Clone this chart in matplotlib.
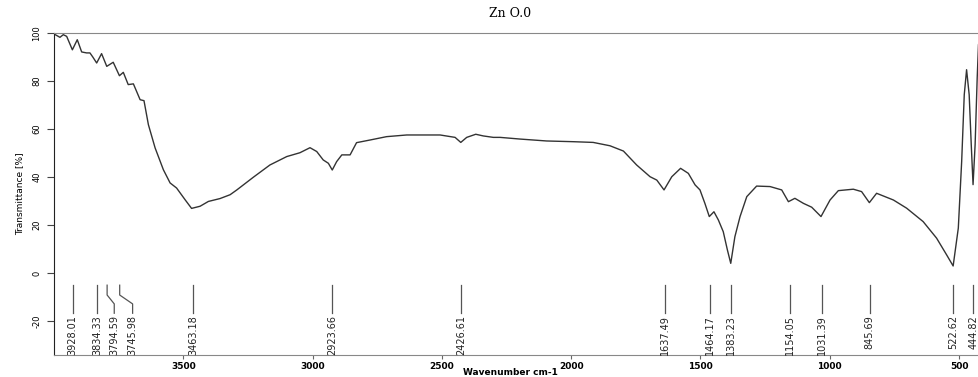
import matplotlib.pyplot as plt

# Spectrum (wavenumber cm-1, transmittance %)
wavenumber = [4000, 3977, 3964, 3951, 3929, 3910, 3893, 3874, 3861, 3850, 3835, 3816,
              3796, 3771, 3747, 3732, 3713, 3693, 3667, 3652, 3635, 3609, 3577, 3551,
              3526, 3493, 3468, 3435, 3403, 3358, 3319, 3293, 3229, 3165, 3100, 3049,
              3010, 2984, 2959, 2939, 2924, 2907, 2887, 2855, 2830, 2778, 2714, 2636,
              2507, 2449, 2427, 2404, 2369, 2340, 2301, 2275, 2198, 2095, 1992, 1915,
              1850, 1798, 1747, 1695, 1669, 1641, 1611, 1577, 1547, 1521, 1502, 1483,
              1466, 1448, 1431, 1412, 1396, 1383, 1367, 1347, 1321, 1283, 1231, 1186,
              1160, 1135, 1102, 1070, 1034, 999, 967, 909, 877, 847, 819, 754, 703,
              639, 587, 548, 523, 503, 490, 480, 471, 461, 453, 446, 438, 430, 425, 420]
transmittance = [99.6, 98.2, 99.3, 98.6, 93.0, 97.2, 92.1, 91.7, 91.7, 90.0, 87.5, 91.4,
                 86.1, 87.8, 82.2, 83.6, 78.5, 78.8, 72.2, 71.8, 61.8, 52.1, 43.0, 37.5,
                 35.4, 30.5, 26.9, 27.8, 29.8, 31.0, 32.6, 34.6, 39.9, 45.0, 48.5, 50.1,
                 52.2, 50.6, 47.1, 45.7, 42.9, 46.4, 49.2, 49.2, 54.3, 55.4, 56.8, 57.5,
                 57.5, 56.5, 54.4, 56.5, 57.8, 57.1, 56.5, 56.5, 55.8, 55.0, 54.7, 54.4,
                 53.0, 50.8, 45.0, 40.1, 38.7, 34.6, 40.1, 43.6, 41.5, 36.7, 34.6, 29.0,
                 23.5, 25.5, 22.1, 17.2, 9.6, 4.0, 15.1, 23.5, 31.8, 36.2, 36.0, 34.6,
                 29.7, 31.1, 29.0, 27.4, 23.5, 30.4, 34.3, 34.9, 33.9, 29.3, 33.2, 30.4,
                 27.0, 21.4, 14.5, 7.5, 2.9, 18.7, 46.5, 74.3, 84.7, 74.3, 53.5, 36.8,
                 53.5, 81.2, 95.1, 98.0]

peaks = [3928.01, 3834.33, 3794.59, 3745.98, 3463.18, 2923.66, 2426.61, 1637.49,
         1464.17, 1383.23, 1154.05, 1031.39, 845.69, 522.62, 444.82]
peak_labels = ['3928.01', '3834.33', '3794.59', '3745.98', '3463.18', '2923.66',
               '2426.61', '1637.49', '1464.17', '1383.23', '1154.05', '1031.39',
               '845.69', '522.62', '444.82']

# labels pushed sideways to avoid overlap
shifted = {'3794.59': 3767, '3745.98': 3696}

fig = plt.figure(figsize=(9.79, 3.77), dpi=100)
ax = fig.add_axes([54 / 979, 22 / 377, 1 - 54 / 979, 322 / 377])

ax.plot(wavenumber, transmittance, color='#333333', linewidth=1.0)

for wn, lab in zip(peaks, peak_labels):
    lx = shifted.get(lab, wn)
    if lab in shifted:
        ax.plot([wn, wn, lx, lx], [-5.1, -9.2, -12.9, -16.8], color='#555555', linewidth=0.9)
    else:
        ax.plot([wn, wn], [-5.1, -16.8], color='#555555', linewidth=0.9)
    ax.text(lx, -17.6, lab, rotation=90, ha='center', va='top', fontsize=7,
            family=['Liberation Sans Narrow', 'DejaVu Sans'], color='#222222')

ax.set_xlim(4000, 423)
ax.set_ylim(-34.2, 100)

ax.set_xticks([3500, 3000, 2500, 2000, 1500, 1000, 500])
ax.set_xticklabels(['3500', '3000', '2500', '2000', '1500', '1000', '500'],
                   fontsize=6.5, fontweight='bold')
ax.set_yticks([100, 80, 60, 40, 20, 0, -20])
ax.set_yticklabels(['100', '80', '60', '40', '20', '0', '-20'], fontsize=6,
                   rotation=90, va='center')
ax.tick_params(axis='y', length=5, width=0.8, color='#444444', pad=4)
ax.tick_params(axis='x', length=3, width=0.8, color='#666666', pad=2)

for side in ['top', 'bottom']:
    ax.spines[side].set_color('#888888')
ax.spines['left'].set_color('#222222')
ax.spines['right'].set_visible(False)

ax.set_ylabel('Transmittance [%]', fontsize=6.5, labelpad=6)
fig.text(0.521, 0.001, 'Wavenumber cm-1', ha='center', va='bottom', fontsize=6.5,
         fontweight='bold')
fig.text(0.521, 0.965, 'Zn O.0', ha='center', va='center', fontsize=9,
         family='DejaVu Serif')

fig.savefig('out.png', dpi=100)
